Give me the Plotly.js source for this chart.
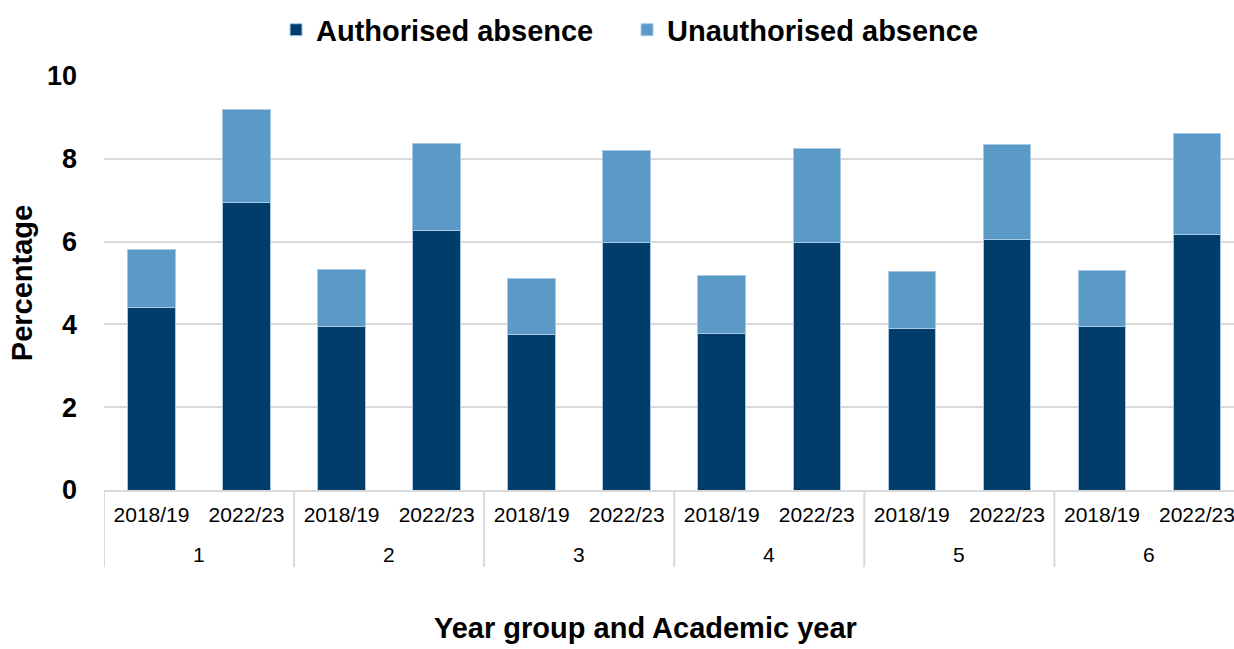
<!DOCTYPE html>
<html>
<head>
<meta charset="utf-8">
<script src="https://cdn.plot.ly/plotly-3.0.1.min.js"></script>
<style>
  html, body { margin: 0; padding: 0; background: #ffffff; }
  #chart { width: 1234px; height: 649px; }
</style>
</head>
<body>
<div id="chart"></div>
<script>
// Data
const yearGroups = ['1', '2', '3', '4', '5', '6'];
const academicYears = ['2018/19', '2022/23'];
// order: year group 1 (2018/19, 2022/23), year group 2 (...), ...
const authorised   = [4.41, 6.95, 3.96, 6.28, 3.76, 5.99, 3.79, 5.99, 3.91, 6.06, 3.96, 6.18];
const unauthorised = [1.39, 2.24, 1.36, 2.09, 1.35, 2.21, 1.38, 2.25, 1.37, 2.29, 1.34, 2.43];
const seriesNames = ['Authorised absence', 'Unauthorised absence'];
const yTicks = [0, 2, 4, 6, 8, 10];
const xTitle = 'Year group and Academic year';
const yTitle = 'Percentage';

// build category positions and labels from the arrays above
const nInner = academicYears.length;
const xIdx = [];
const innerLabels = [];
yearGroups.forEach((g, gi) => academicYears.forEach((a, ai) => {
  xIdx.push(gi * nInner + ai);
  innerLabels.push(a);
}));

const font = 'Liberation Sans, Arial, sans-serif';
const edge = { color: '#a9c9e6', width: 1 };
const gridCol = '#d9d9d9';

const traces = [
  {
    type: 'bar', name: seriesNames[0],
    x: xIdx, y: authorised,
    marker: { color: '#003d6b', line: edge },
    hoverinfo: 'y+name'
  },
  {
    type: 'bar', name: seriesNames[1],
    x: xIdx, y: unauthorised,
    marker: { color: '#5b9ac7', line: edge },
    hoverinfo: 'y+name'
  }
];

// group labels and dividers under the axis (second category level)
const annotations = yearGroups.map((g, gi) => ({
  xref: 'x', yref: 'paper',
  x: gi * nInner + (nInner - 1) / 2, y: -0.157,
  text: g, showarrow: false, xanchor: 'center', yanchor: 'middle',
  font: { family: font, size: 21, color: '#000000' }
}));
// x axis title (centred on the chart like the reference)
annotations.push({
  xref: 'paper', yref: 'paper', x: 0.4788, y: -0.377,
  text: xTitle, showarrow: false, xanchor: 'center', yanchor: 'bottom',
  font: { family: font, size: 29, weight: 700, color: '#000000' }
});
const dividerShapes = [];
for (let gi = 0; gi <= yearGroups.length; gi++) {
  dividerShapes.push({
    type: 'line', xref: 'x', yref: 'paper',
    x0: gi * nInner - 0.5, x1: gi * nInner - 0.5, y0: 0, y1: -0.186,
    line: { color: gridCol, width: 2 }, layer: 'below'
  });
}

const layout = {
  width: 1234, height: 649,
  margin: { l: 104, r: 0, t: 76, b: 159, pad: 0 },
  paper_bgcolor: '#ffffff', plot_bgcolor: '#ffffff',
  barmode: 'stack', bargap: 0.5,
  font: { family: font, color: '#000000' },
  showlegend: true,
  legend: {
    orientation: 'h', xref: 'container', yref: 'container',
    x: 0.2237, xanchor: 'left', y: 0.954, yanchor: 'middle',
    entrywidth: 306, entrywidthmode: 'pixels',
    font: { family: font, size: 29, weight: 700, color: '#000000' },
    itemclick: false, itemdoubleclick: false, traceorder: 'normal'
  },
  xaxis: {
    type: 'linear',
    range: [-0.5, 11.39],
    tickvals: xIdx, ticktext: innerLabels,
    ticklabeloverflow: 'allow',
    showline: true, linecolor: gridCol, linewidth: 2,
    showgrid: false, zeroline: false,
    ticks: '', ticklabelstandoff: 5,
    tickfont: { family: font, size: 21, color: '#000000' },
    automargin: false, fixedrange: true
  },
  yaxis: {
    range: [0, 10], tickvals: yTicks, ticktext: yTicks.map(String),
    showline: false, showgrid: true, gridcolor: gridCol, gridwidth: 2,
    zeroline: false, ticks: '', ticklabelstandoff: 26,
    tickfont: { family: font, size: 27, weight: 700, color: '#000000' },
    title: { text: yTitle, font: { family: font, size: 29, weight: 700, color: '#000000' }, standoff: 5 },
    automargin: false, fixedrange: true
  },
  annotations: annotations,
  shapes: dividerShapes
};

Plotly.newPlot('chart', traces, layout, { displayModeBar: false, responsive: false });
</script>
</body>
</html>
